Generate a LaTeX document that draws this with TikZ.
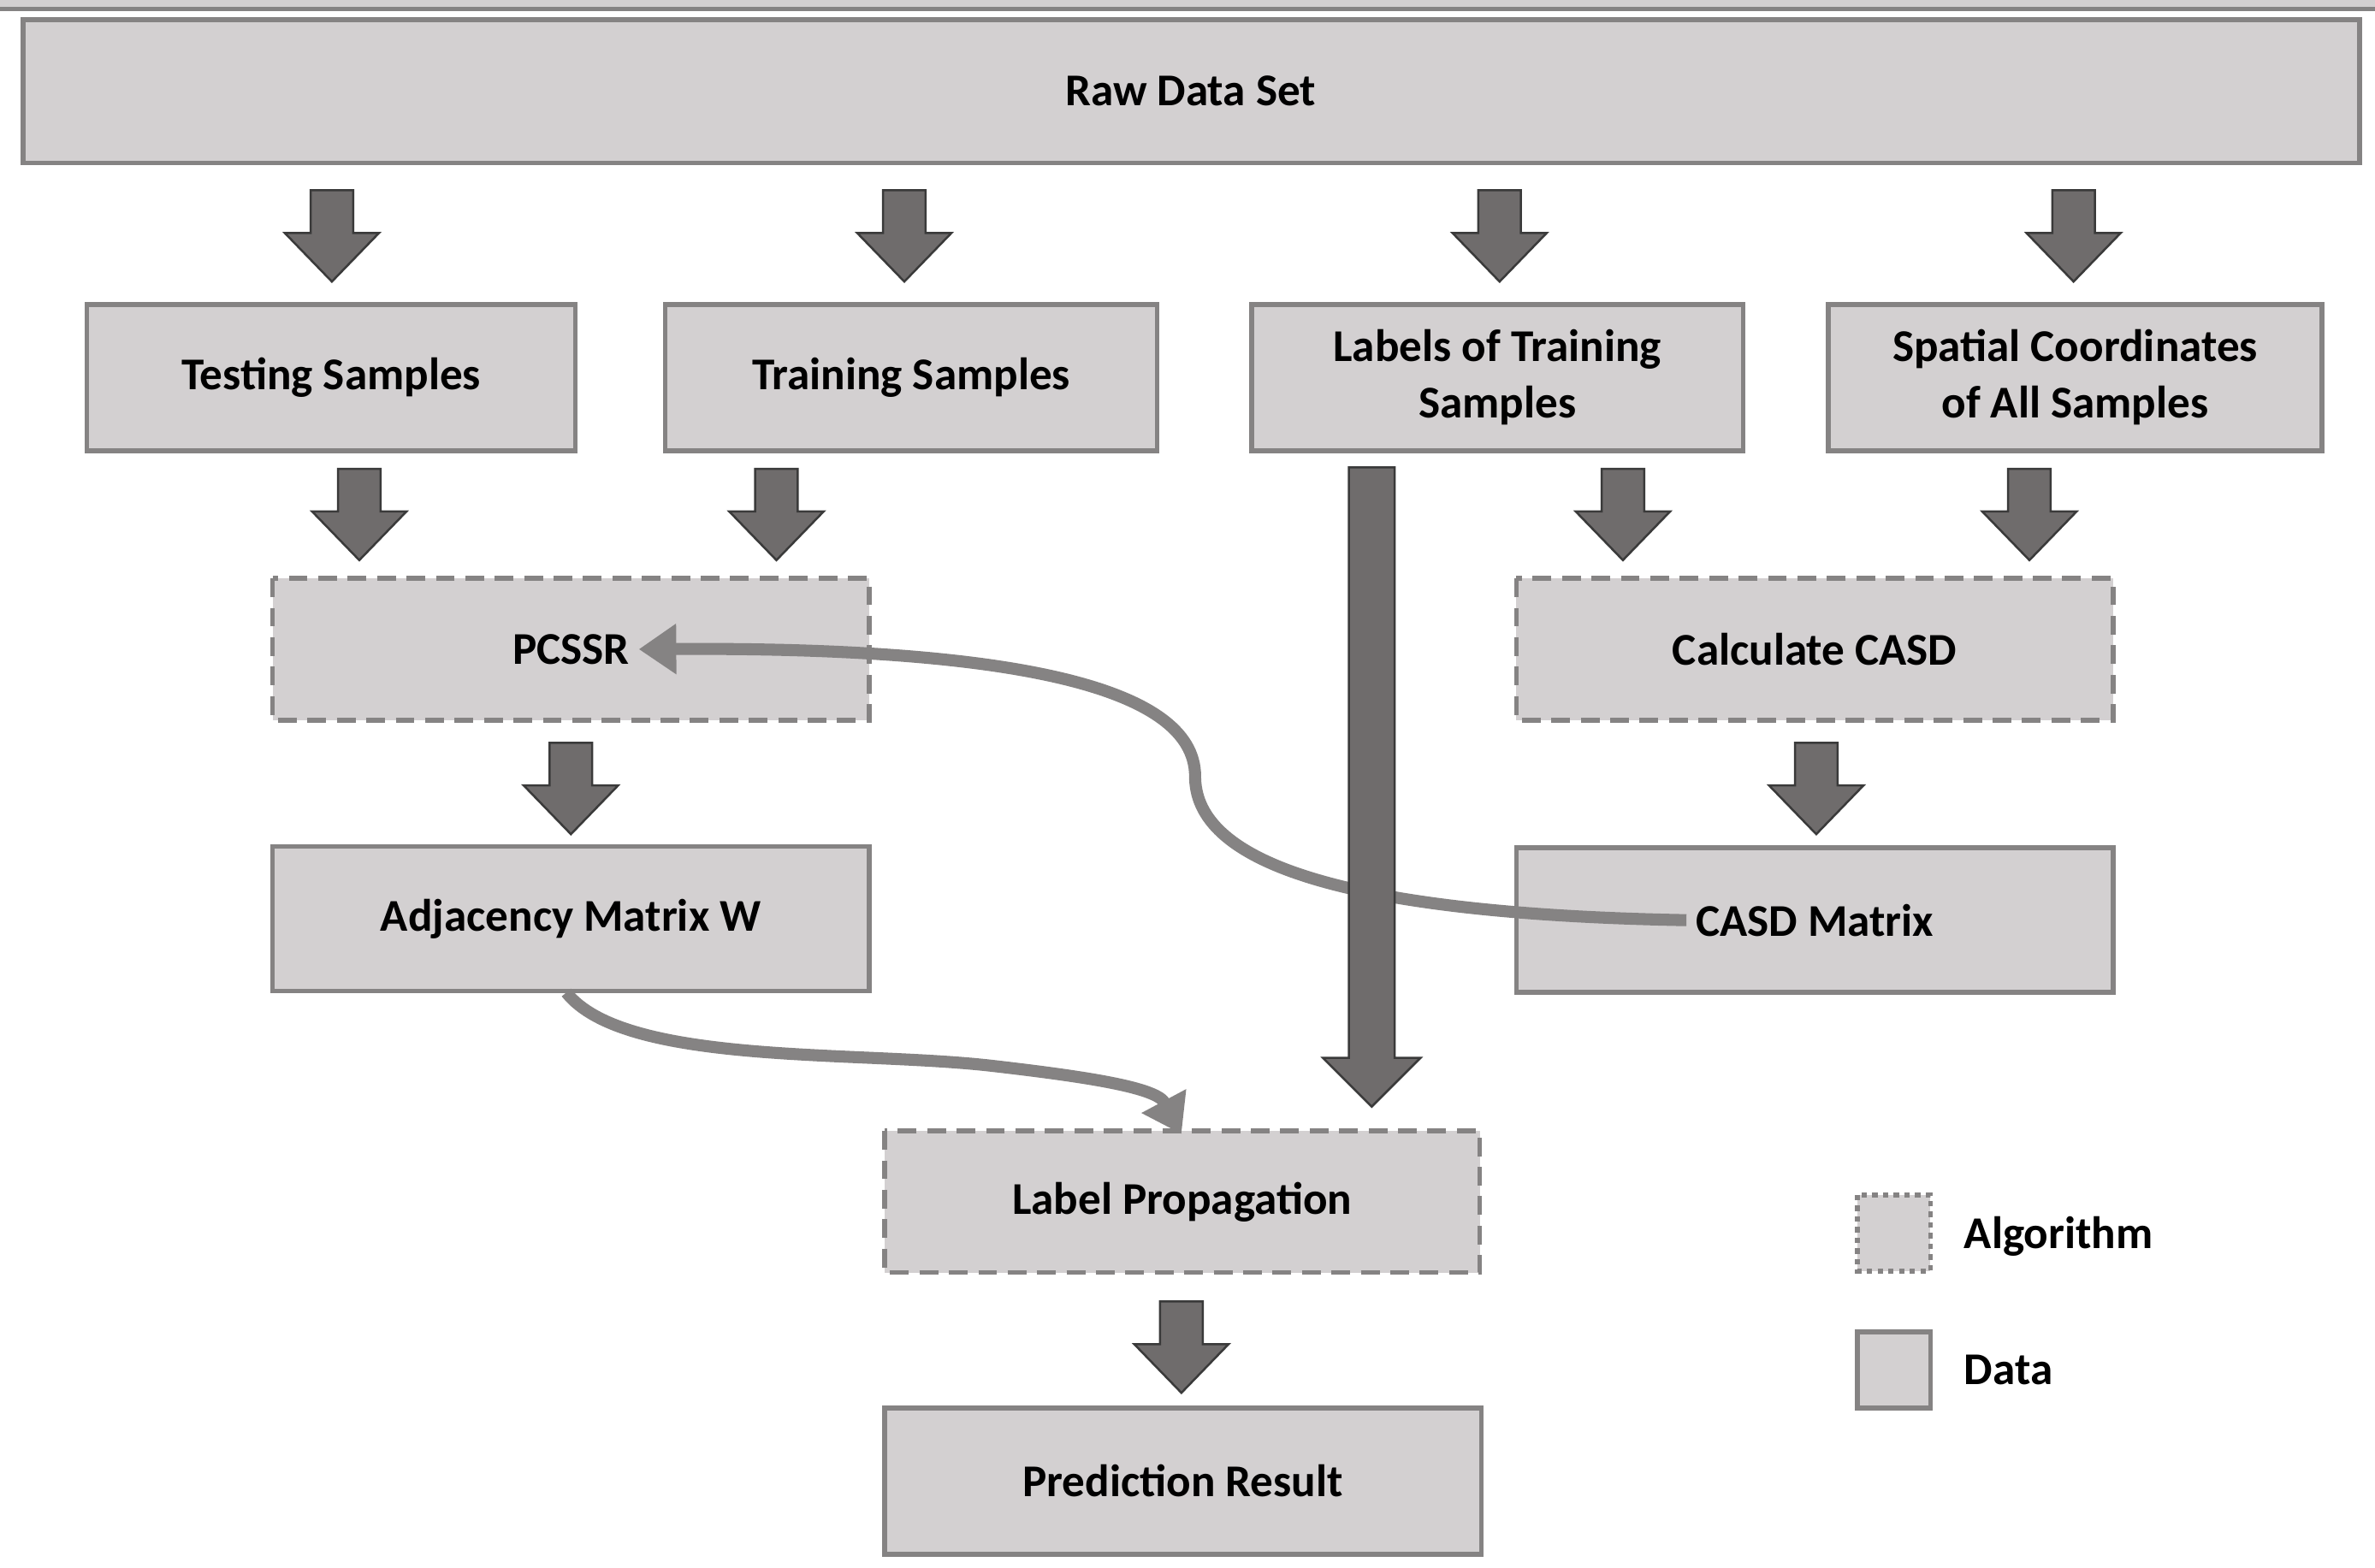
\documentclass[tikz,border=0pt]{standalone}
\usepackage{fontspec}
\setmainfont{Carlito}
\usetikzlibrary{arrows.meta}
\definecolor{boxfill}{HTML}{D3D0D1}
\definecolor{boxline}{HTML}{858383}
\definecolor{arrfill}{HTML}{6F6C6C}
\definecolor{arrline}{HTML}{3A3A3A}
\tikzset{
 data/.style={draw=boxline,fill=boxfill,line width=1.8pt,align=center,font=\fontsize{17}{21}\selectfont\bfseries},
 algo/.style={data,dashed,dash pattern=on 7pt off 4pt},
 curve/.style={draw=boxline,line width=4.5pt,-{Triangle[length=14pt,width=18pt]}}
}
\newcommand\blkarr[3]{% x, ytop, ybot
 \filldraw[fill=arrfill,draw=arrline,line width=0.8pt]
 (#1-14,#2)--(#1+14,#2)--(#1+14,#3-32)--(#1+31,#3-32)--(#1,#3)--(#1-31,#3-32)--(#1-14,#3-32)--cycle;}
\begin{document}
\begin{tikzpicture}[x=0.02cm,y=-0.02cm]
\useasboundingbox (0,0) rectangle (1560,1030);
\node[data,minimum width=1535\pgflinewidth,anchor=center] at (0,0) {};
\path[data] (15,13) rectangle (1550,107);
\node[font=\fontsize{17}{21}\selectfont\bfseries] (raw) at (782,60) {Raw Data Set};
\newcommand\bx[7]{\path[#1] (#2,#3) rectangle (#4,#5); \node[font=\fontsize{17}{21}\selectfont\bfseries,align=center] (#6) at ({(#2+#4)/2},{(#3+#5)/2}) {#7};}
\bx{data}{57}{200}{378}{296}{test}{Testing Samples}
\bx{data}{437}{200}{760}{296}{train}{Training Samples}
\bx{data}{822}{200}{1145}{296}{lab}{Labels of Training\\Samples}
\bx{data}{1201}{200}{1525}{296}{spat}{Spatial Coordinates\\of All Samples}
\bx{algo}{179}{380}{571}{473}{pcssr}{PCSSR}
\bx{algo}{996}{380}{1388}{473}{calc}{Calculate CASD}
\bx{data}{179}{556}{571}{651}{adj}{Adjacency Matrix W}
\bx{data}{996}{557}{1388}{652}{casd}{CASD Matrix}
\bx{algo}{581}{743}{972}{836}{lp}{Label Propagation}
\bx{data}{581}{925}{973}{1021}{pred}{Prediction Result}
\path[algo,dash pattern=on 2pt off 2pt] (1220,785) rectangle (1268,835);
\path[data] (1220,875) rectangle (1268,925);
\node[font=\fontsize{17}{21}\selectfont\bfseries,anchor=west] (lalg) at (1284,812) {Algorithm};
\node[font=\fontsize{17}{21}\selectfont\bfseries,anchor=west] (ldat) at (1284,900) {Data};
\blkarr{218}{125}{185}\blkarr{594}{125}{185}\blkarr{985}{125}{185}\blkarr{1362}{125}{185}
\blkarr{236}{308}{368}\blkarr{510}{308}{368}\blkarr{1066}{308}{368}\blkarr{1333}{308}{368}
\blkarr{375}{488}{548}\blkarr{1193}{488}{548}\blkarr{776}{855}{915}
\draw[curve] (casd.west) .. controls (860,600) and (785,560) .. (785,510) .. controls (785,450) and (660,425) .. (pcssr.east);
\draw[curve] (372,652) .. controls (410,700) and (560,690) .. (650,700) .. controls (720,708) and (760,715) .. (776,745);
\filldraw[fill=arrfill,draw=arrline,line width=0.8pt]
 (886,307)--(916,307)--(916,695)--(933,695)--(901,727)--(869,695)--(886,695)--cycle;
\end{tikzpicture}
\end{document}
